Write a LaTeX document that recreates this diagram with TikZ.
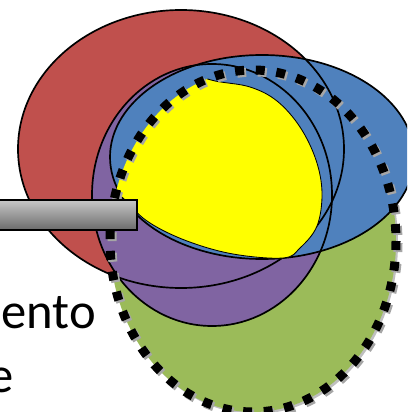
\documentclass[tikz,border=0pt]{standalone}
\usepackage{fontspec}
\setmainfont{Carlito}
\definecolor{myred}{HTML}{C0504D}
\definecolor{myblue}{HTML}{4F81BD}
\definecolor{mypurple}{HTML}{8064A2}
\definecolor{mygreen}{HTML}{9BBB59}
\definecolor{myyellow}{HTML}{FFFF00}
\usepackage{tikz}
\usetikzlibrary{positioning}
\tikzset{
	setline/.style={line width=1.2pt, draw=black}
}
\tikzset{
	dotline/.style={line width=6.4pt, dash pattern=on 6.4pt off 8.3pt, draw=black}
}
\tikzset{
	bigtext/.style={font=\fontsize{36}{45}\selectfont, inner sep=0pt}
}

\begin{document}
\begin{tikzpicture}[x=0.025cm, y=-0.025cm]
\useasboundingbox (0,0) rectangle (407,412);
\clip (0,0) rectangle (407,412);

\coordinate (cGreen) at (253,241);
\coordinate (cRed) at (181,149);
\coordinate (cPurple) at (212,195);
\coordinate (cBlue) at (262,157);

\fill[black!25] ([shift={(2,2)}]cGreen) ellipse [x radius=143, y radius=171];
\fill[mygreen] (cGreen) ellipse [x radius=143, y radius=171];
\fill[myred] (cRed) ellipse [x radius=163, y radius=139];
\fill[mypurple] (cPurple) ellipse [x radius=120, y radius=131];
\fill[myblue] (cBlue) ellipse [x radius=152, y radius=102];

\draw[setline] (cRed) ellipse [x radius=163, y radius=139];
\draw[setline] (cPurple) ellipse [x radius=120, y radius=131];
\draw[setline] (cBlue) ellipse [x radius=152, y radius=102];

% yellow part, cut by the dotted set
\begin{scope}
\clip (cGreen) ellipse [x radius=143, y radius=171];
\draw[setline, line width=0.6pt, fill=myyellow] plot[smooth cycle, tension=0.6] coordinates {
	(120,90) (175,72) (215,81) (250,87) (277,101) (300,127) (316,160)
	(322,193) (317,226) (300,248) (283,258) (233,254) (187,241)
	(150,223) (128,203) (100,170) (95,120)};
\end{scope}

\draw[dotline, draw=black!35] ([shift={(2,2)}]cGreen) ellipse [x radius=143, y radius=171];
\draw[dotline] (cGreen) ellipse [x radius=143, y radius=171];

\draw[setline, top color=black!22, bottom color=black!58] (-5,200) rectangle (137,230);

\node[bigtext, anchor=base west] (tEnto) at (1,328) {ento};
\node[bigtext, anchor=base east] (tE) at (14,392) {e};

\end{tikzpicture}
\end{document}
